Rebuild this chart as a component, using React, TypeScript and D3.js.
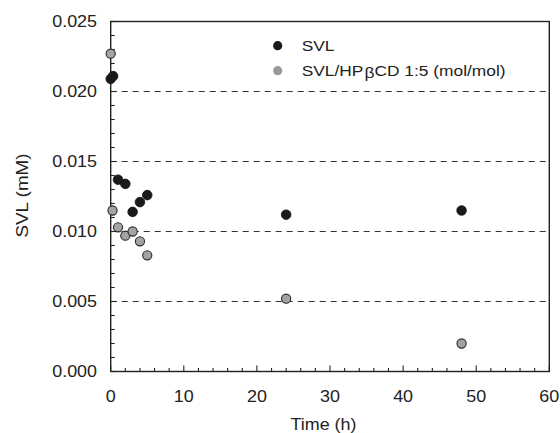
import React from "react";
import * as d3 from "d3";

const svlTime = [0, 0.33, 1, 2, 3, 4, 5, 24, 48];
const svlValue = [0.0209, 0.0211, 0.0137, 0.0134, 0.0114, 0.0121, 0.0126, 0.0112, 0.0115];
const cdTime = [0, 0.25, 1, 2, 3, 4, 5, 24, 48];
const cdValue = [0.0227, 0.0115, 0.0103, 0.0097, 0.01, 0.0093, 0.0083, 0.0052, 0.002];
const xTicks = [0, 10, 20, 30, 40, 50, 60];
const yTicks = [0, 0.005, 0.01, 0.015, 0.02, 0.025];
const gridValues = [0.005, 0.01, 0.015, 0.02];

const W = 560;
const H = 433;
const SX = 1.12;

export default function App() {
  const x = d3.scaleLinear().domain([0, 60]).range([110.7, 549.3]);
  const y = d3.scaleLinear().domain([0, 0.025]).range([371.5, 21.5]);
  const x0 = x(0), x1 = x(60), y0 = y(0), y1 = y(0.025);
  const minorX = d3.range(0, 61, 2);
  const minorY = d3.range(0, 26).map((d) => d / 1000);
  const font = "'Liberation Sans', Arial, Helvetica, sans-serif";
  const txt = "#222";

  return (
    <div style={{ position: "absolute", left: 0, top: 0 }}>
      <svg width={W} height={H} viewBox={`0 0 ${W} ${H}`} style={{ display: "block", background: "#fff" }} fontFamily={font}>
        <rect x={0} y={0} width={W} height={H} fill="#fff" />
        {gridValues.map((v) => (
          <line key={"g" + v} x1={x0} x2={x1} y1={y(v)} y2={y(v)} stroke="#333" strokeWidth={1.2} strokeDasharray="6,5" />
        ))}
        {minorX.map((t) => (
          <line key={"mx" + t} x1={x(t)} x2={x(t)} y1={y0} y2={y0 - (t % 10 === 0 ? 6 : 3.5)} stroke="#222" strokeWidth={1.1} />
        ))}
        {minorY.map((v, i) => (
          <line key={"my" + i} x1={x0} x2={x0 + (i % 5 === 0 ? 6 : 4)} y1={y(v)} y2={y(v)} stroke="#222" strokeWidth={1.1} />
        ))}
        <rect x={x0} y={y1} width={x1 - x0} height={y0 - y1} fill="none" stroke="#222" strokeWidth={1.4} />
        {yTicks.map((v) => (
          <g key={"yl" + v} transform={`translate(97,${y(v)}) scale(${SX},1)`}>
            <text textAnchor="end" dy="0.36em" fontSize={16} fill={txt}>{d3.format(".3f")(v)}</text>
          </g>
        ))}
        {xTicks.map((t) => (
          <g key={"xl" + t} transform={`translate(${x(t)},402) scale(${SX},1)`}>
            <text textAnchor="middle" fontSize={16} fill={txt}>{t}</text>
          </g>
        ))}
        <g transform={`translate(323.5,430) scale(${SX},1)`}>
          <text textAnchor="middle" fontSize={16} fill={txt}>Time (h)</text>
        </g>
        <g transform={`translate(27.5,195.5) rotate(-90) scale(1.18,1)`}>
          <text textAnchor="middle" fontSize={16} fill={txt}>SVL (mM)</text>
        </g>
        {svlTime.map((t, i) => (
          <circle key={"s" + i} cx={x(t)} cy={y(svlValue[i])} r={4.8} fill="#1a1a1a" stroke="#111" strokeWidth={0.8} />
        ))}
        {cdTime.map((t, i) => (
          <circle key={"c" + i} cx={x(t)} cy={y(cdValue[i])} r={4.6} fill="#a3a3a3" stroke="#2a2a2a" strokeWidth={1.1} />
        ))}
        <circle cx={277.7} cy={45.7} r={4.6} fill="#1a1a1a" />
        <circle cx={277.7} cy={70.7} r={4.6} fill="#9a9a9a" />
        <g transform={`translate(301.7,50.7) scale(${SX},1)`}>
          <text fontSize={15.5} fill={txt}>SVL</text>
        </g>
        <g transform={`translate(301.7,76) scale(${SX},1)`}>
          <text fontSize={15.5} fill={txt}>
            SVL/HP<tspan dy={2} dx={1}>β</tspan><tspan dy={-2}>CD 1:5 (mol/mol)</tspan>
          </text>
        </g>
      </svg>
    </div>
  );
}
